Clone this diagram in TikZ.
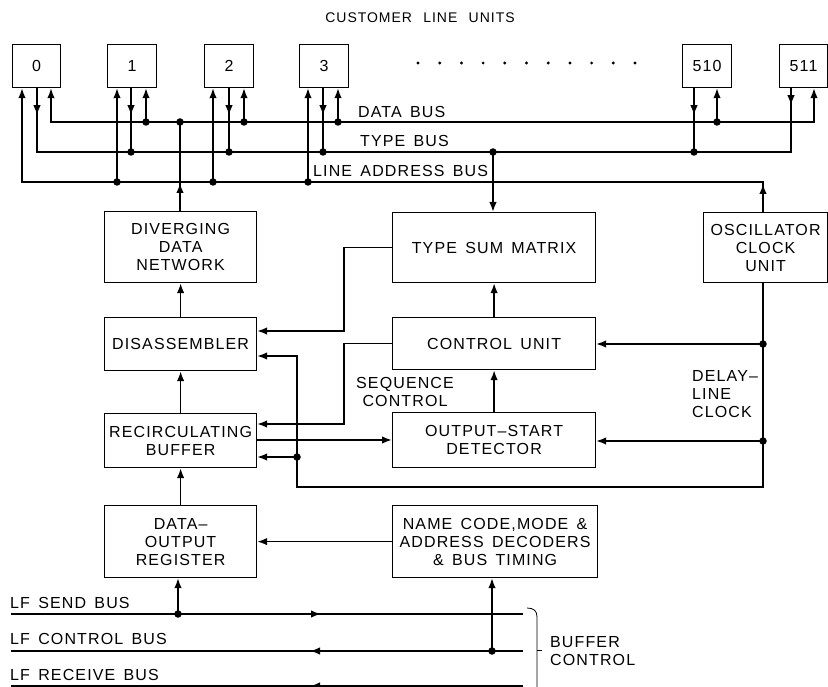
\documentclass[tikz,border=0pt]{standalone}
\usepackage{fontspec}
\setmainfont[LetterSpace=7,WordSpace=1.5]{Liberation Sans}
\usetikzlibrary{arrows.meta,decorations.markings}
\tikzset{
  tipshape/.tip={Latex[length=10pt,width=7.5pt]},
  box/.style={draw,line width=1.2pt,inner sep=0pt,anchor=north west,align=center},
  bus/.style={line width=1.6pt},
  into/.style={-tipshape},
  both/.style={tipshape-tipshape},
  jdot/.style={circle,fill,inner sep=0pt,minimum size=7.5pt},
  lbl/.style={inner sep=0pt},
  midarr/.style={postaction={decorate,decoration={markings,mark=at position #1 with {\arrow{tipshape}}}}},
  midrev/.style={postaction={decorate,decoration={markings,mark=at position #1 with {\arrowreversed{tipshape}}}}},
}
\newcommand\mkbox[6]{\node[box,minimum width=#4pt,minimum height=#5pt] (#1) at (#2,#3) {#6};}
\begin{document}
\begin{tikzpicture}[x=1pt,y=-1pt,font=\fontsize{16}{18}\selectfont]
\useasboundingbox (0,0) rectangle (828,687);
% title and unit boxes
\node[lbl] (title) at (420,18) {\fontsize{14}{16}\selectfont CUSTOMER\hspace{4pt} LINE\hspace{4pt} UNITS};
\mkbox{u0}{12}{44}{48}{43}{0}
\mkbox{u1}{107}{44}{49}{43}{1}
\mkbox{u2}{204}{44}{49}{43}{2}
\mkbox{u3}{299}{44}{49}{43}{3}
\mkbox{u510}{682}{44}{49}{43}{510}
\mkbox{u511}{779}{44}{48}{43}{511}
\foreach \i in {0,...,10} \fill (418+21.7*\i,63) circle (1.6pt);
% main boxes
\mkbox{ddn}{104}{211}{152}{71}{DIVERGING\\DATA\\NETWORK}
\mkbox{dis}{104}{317}{152}{53}{DISASSEMBLER}
\mkbox{rb}{104}{413}{152}{54}{RECIRCULATING\\BUFFER}
\mkbox{dor}{104}{505}{152}{72}{DATA–\\OUTPUT\\REGISTER}
\mkbox{tsm}{392}{212}{203}{70}{TYPE SUM MATRIX}
\mkbox{cu}{392}{317}{203}{52}{CONTROL UNIT}
\mkbox{osd}{392}{412}{203}{55}{OUTPUT–START\\DETECTOR}
\mkbox{nc}{392}{505}{205}{72}{NAME CODE,MODE \&\\ADDRESS DECODERS\\\& BUS TIMING}
\mkbox{osc}{703}{212}{124}{70}{OSCILLATOR\\CLOCK\\UNIT}
% bus coordinates
\coordinate (D0) at (51,122); \coordinate (DE) at (814,122);
\coordinate (T0) at (37,152); \coordinate (TE) at (791,152);
\coordinate (A0) at (22,182); \coordinate (AE) at (763,182);
% data bus
\draw[bus,both] (D0 |- u0.south) -- (D0) -- (DE) -- (DE |- u511.south);
% type bus
\draw[bus,midarr=27pt,midrev=-17pt] (T0 |- u0.south) -- (T0) -- (TE) -- (TE |- u511.south);
% line address bus
\draw[bus,into,midarr=28pt] (AE |- osc.north) -- (AE) -- (A0) -- (A0 |- u0.south);
% unit taps
\foreach \u/\a/\t/\d in {u1/117/131/146,u2/213/229/244,u3/308/323/338}{
  \coordinate (a\u) at (\a,182);
  \coordinate (t\u) at (\t,152);
  \coordinate (d\u) at (\d,122);
  \draw[bus,into] (a\u) -- (a\u |- \u.south);
  \draw[bus,midarr=27pt] (t\u |- \u.south) -- (t\u);
  \draw[bus,into] (d\u) -- (d\u |- \u.south);
  \node[jdot] (ja\u) at (a\u) {};
  \node[jdot] (jt\u) at (t\u) {};
  \node[jdot] (jd\u) at (d\u) {};
}
\coordinate (tu510) at (694,152); \coordinate (du510) at (717,122);
\draw[bus,midarr=27pt] (tu510 |- u510.south) -- (tu510);
\draw[bus,into] (du510) -- (du510 |- u510.south);
\node[jdot] (jtu510) at (tu510) {};
\node[jdot] (jdu510) at (du510) {};
% bus labels
\node[lbl,anchor=west] (ldata) at (358,111.5) {DATA BUS};
\node[lbl,anchor=west] (ltype) at (360,141) {TYPE BUS};
\node[lbl,anchor=west] (laddr) at (313,171) {LINE ADDRESS BUS};
% data bus to diverging network
\coordinate (DD) at (180,122);
\draw[bus,midarr=28pt] (DD |- ddn.north) -- (DD);
\node[jdot] (jDD) at (DD) {};
% type bus to type sum matrix
\coordinate (TT) at (493,152);
\draw[bus,into] (TT) -- (TT |- tsm.north);
\node[jdot] (jTT) at (TT) {};
% vertical chain
\draw[bus,into] (dis.north) -- (ddn.south);
\draw[bus,into] (rb.north) -- (dis.south);
\draw[bus,into] (dor.north) -- (rb.south);
\draw[bus,into] (cu.north) -- (tsm.south);
\draw[bus,into] (osd.north) -- (cu.south);
% cross links
\coordinate (s1) at (344,331);
\draw[bus,into] (tsm.west) -| (s1) -- (s1 -| dis.east);
\coordinate (s2) at (344,424);
\draw[bus,into] (cu.west) -| (s2) -- (s2 -| rb.east);
\coordinate (s3) at (256,440);
\draw[bus,into] (s3 -| rb.east) -- (s3 -| osd.west);
% oscillator clock distribution
\coordinate (c1) at (763,487); \coordinate (c2) at (297,487);
\coordinate (c3) at (297,356); \coordinate (c4) at (297,457);
\coordinate (c5) at (763,344); \coordinate (c6) at (763,441);
\draw[bus,into] (c1 |- osc.south) -- (c1) -- (c2) -- (c3) -- (c3 -| dis.east);
\draw[bus,into] (c4) -- (c4 -| rb.east);
\draw[bus,into] (c5) -- (c5 -| cu.east);
\draw[bus,into] (c6) -- (c6 -| osd.east);
\node[jdot] (jc4) at (c4) {};
\node[jdot] (jc5) at (c5) {};
\node[jdot] (jc6) at (c6) {};
\node[lbl,align=center] (seq) at (405,392) {SEQUENCE\\CONTROL};
\node[lbl,anchor=west,align=left] (dlc) at (692,394) {DELAY–\\LINE\\CLOCK};
% bottom
\draw[bus,into] (nc.west) -- (dor.east);
\coordinate (L1a) at (11,614); \coordinate (L1b) at (523,614);
\coordinate (L2a) at (11,651); \coordinate (L2b) at (523,651);
\coordinate (L3a) at (11,686); \coordinate (L3b) at (523,686);
\draw[bus,midarr=310pt] (L1a) -- (L1b);
\draw[bus,midarr=213pt] (L2b) -- (L2a);
\draw[bus,midarr=213pt] (L3b) -- (L3a);
\coordinate (j1) at (178,614); \coordinate (j2) at (492,651);
\draw[bus,into] (j1) -- (j1 |- dor.south);
\draw[bus,into] (j2) -- (j2 |- nc.south);
\node[jdot] (jj1) at (j1) {};
\node[jdot] (jj2) at (j2) {};
\node[lbl,anchor=west] (lsend) at (10,602.5) {LF SEND BUS};
\node[lbl,anchor=west] (lctrl) at (10,639) {LF CONTROL BUS};
\node[lbl,anchor=west] (lrecv) at (10,675) {LF RECEIVE BUS};
\draw[line width=0.8pt] (527,608) .. controls (534,608) and (537,611) .. (537,617) -- (537,690);
\draw[line width=0.8pt] (537,650) -- (542,650);
\node[lbl,anchor=west,align=left] (bc) at (550,651) {BUFFER\\CONTROL};
\end{tikzpicture}
\end{document}
